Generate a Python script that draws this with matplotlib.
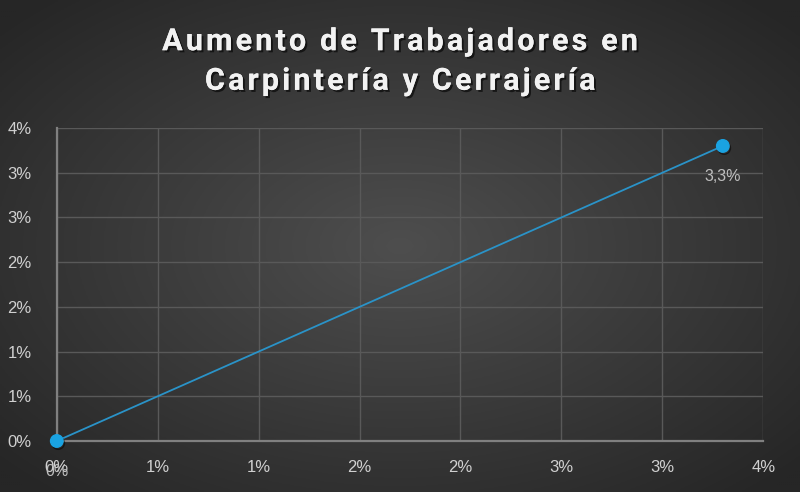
import matplotlib
matplotlib.use("Agg")
import matplotlib.pyplot as plt
import matplotlib.patheffects as pe
import numpy as np

# datos
x_vals = [0.0, 0.033]
y_vals = [0.0, 0.033]
etiquetas_puntos = ["0%", "3,3%"]
ticks = [0.0, 0.005, 0.010, 0.015, 0.020, 0.025, 0.030, 0.035]
tick_labels = ["0%", "1%", "1%", "2%", "2%", "3%", "3%", "4%"]
titulo = "Aumento de Trabajadores en\nCarpintería y Cerrajería"

fig = plt.figure(figsize=(8, 4.92), dpi=100)

# fondo con degradado radial
bg = fig.add_axes([0, 0, 1, 1], zorder=-10)
gx, gy = np.meshgrid(np.linspace(-1, 1, 400), np.linspace(-1, 1, 250))
r = np.clip(np.sqrt(gx**2 + gy**2) / 1.35, 0, 1)
c_centro = np.array([0x4e, 0x4e, 0x4e]) / 255
c_borde = np.array([0x26, 0x26, 0x26]) / 255
img = c_centro[None, None, :] * (1 - r[..., None]) + c_borde[None, None, :] * r[..., None]
bg.imshow(img, aspect="auto", extent=[0, 1, 0, 1])
bg.axis("off")

ax = fig.add_axes([0.071, 0.1037, 0.883, 0.636])
ax.patch.set_alpha(0)

ax.plot(x_vals, y_vals, color="#2a93c8", linewidth=1.3, zorder=3)
ax.plot(x_vals, y_vals, linestyle="none", marker="o", markersize=9,
        color="#1aa3e2", markeredgecolor="#1aa3e2", clip_on=False, zorder=4,
        path_effects=[pe.SimpleLineShadow(offset=(1, -1.5), alpha=0.5), pe.Normal()])

for xv, yv, lab in zip(x_vals, y_vals, etiquetas_puntos):
    ax.annotate(lab, (xv, yv), xytext=(0, -22), textcoords="offset points",
                ha="center", va="center", color="#bfbfbf", fontsize=11.5,
                family="Liberation Sans", annotation_clip=False)

ax.set_xlim(0, 0.035)
ax.set_ylim(0, 0.035)
ax.set_xticks(ticks)
ax.set_xticklabels(tick_labels)
ax.set_yticks(ticks)
ax.set_yticklabels(tick_labels)
ax.tick_params(length=0, colors="#d0d0d0", labelsize=12, pad=14)
for lab in ax.get_xticklabels() + ax.get_yticklabels():
    lab.set_family("Liberation Sans")
ax.tick_params(axis="y", pad=18)

ax.grid(True, color="#595959", linewidth=1)
for s in ["top", "right"]:
    ax.spines[s].set_visible(False)
for s in ["left", "bottom"]:
    ax.spines[s].set_color("#808080")
    ax.spines[s].set_linewidth(1.6)

# titulo con algo de espaciado entre letras
lineas = ["\u200a".join(l) for l in titulo.split("\n")]
fig.text(0.5, 0.876, "\n".join(lineas), ha="center", va="center", color="#f2f2f2",
         fontsize=22, fontweight="bold", linespacing=1.4,
         family=["Roboto", "DejaVu Sans"],
         path_effects=[pe.withSimplePatchShadow(offset=(1.5, -1.5), shadow_rgbFace="black", alpha=0.6), pe.Normal()])

fig.savefig("out.png", dpi=100)
